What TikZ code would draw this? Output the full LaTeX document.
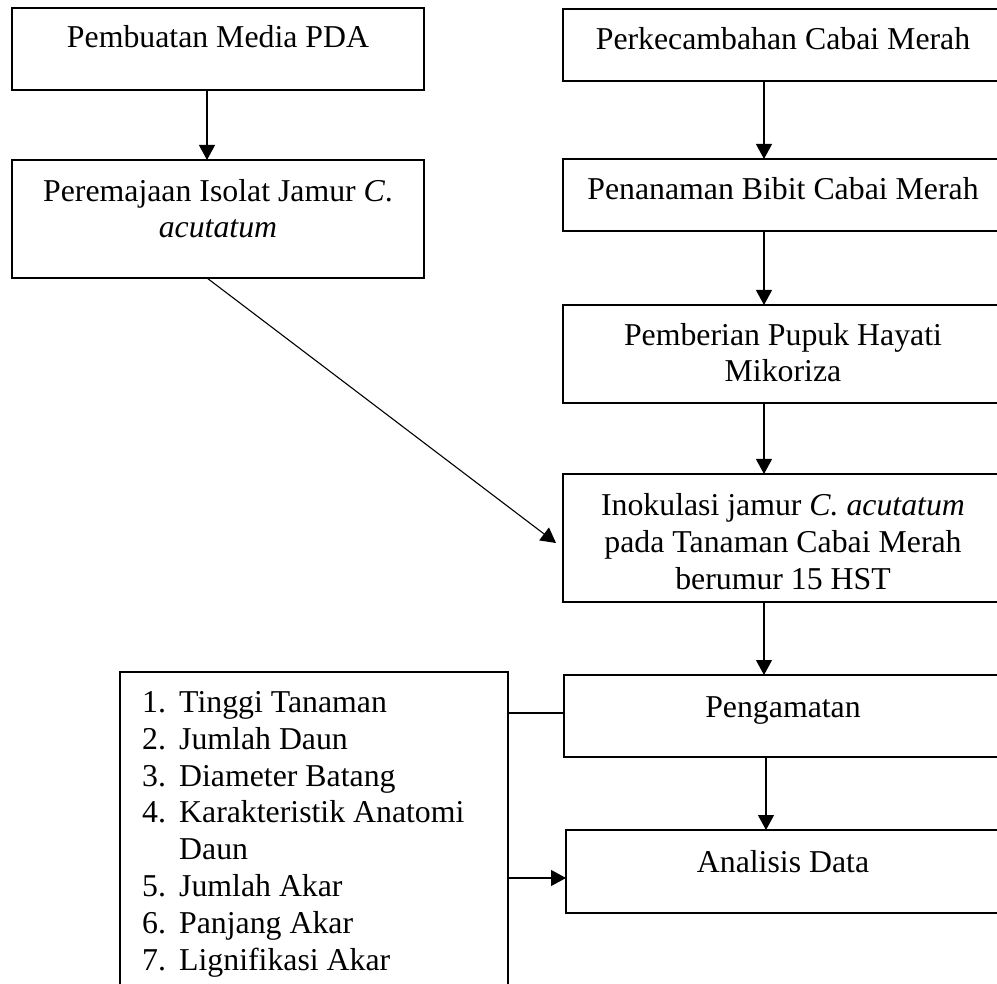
\documentclass[tikz,border=0pt]{standalone}
\usepackage{fontspec}
\setmainfont{Liberation Serif}
\usetikzlibrary{arrows.meta}
\begin{document}
\begin{tikzpicture}[x=1pt,y=-1pt,
  box/.style={draw,line width=2.4pt,rectangle,inner sep=0pt,outer sep=0pt,anchor=north west},
  txt/.style={anchor=base,inner sep=0pt,align=center,font=\fontsize{31.8}{36.8}\selectfont},
  conn/.style={line width=1.1pt},
  arr/.style={line width=1.1pt,-{Triangle[length=15pt,width=16pt]}}]
\useasboundingbox (0,0) rectangle (997,984);
\clip (0,0) rectangle (997,984);
% boxes
\node[box,minimum width=412pt,minimum height=82pt] (A) at (12,8) {};
\node[box,minimum width=412pt,minimum height=118pt] (C) at (12,160) {};
\node[box,minimum width=440pt,minimum height=72pt] (B) at (563,9) {};
\node[box,minimum width=440pt,minimum height=72pt] (D) at (563,159) {};
\node[box,minimum width=440pt,minimum height=98pt] (E) at (563,305) {};
\node[box,minimum width=440pt,minimum height=128pt] (F) at (563,474) {};
\node[box,minimum width=440pt,minimum height=82pt] (G) at (564,675) {};
\node[box,minimum width=440pt,minimum height=83pt] (H) at (566,830) {};
\node[box,minimum width=388pt,minimum height=340pt] (L) at (120,672) {};
% column positions of the vertical connectors
\coordinate (xl) at (207,0);
\coordinate (xr) at (764,0);
\coordinate (xg) at (766,0);
% texts (anchor = baseline of last line)
\node[txt] (tA) at (218,48) {Pembuatan Media PDA};
\node[txt] (tC) at (218,238) {Peremajaan Isolat Jamur \textit{C}.\\\textit{acutatum}};
\node[txt] (tB) at (783,50) {Perkecambahan Cabai Merah};
\node[txt] (tD) at (783,200) {Penanaman Bibit Cabai Merah};
\node[txt] (tE) at (783,382) {Pemberian Pupuk Hayati\\Mikoriza};
\node[txt] (tF) at (783,589) {Inokulasi jamur \textit{C. acutatum}\\pada Tanaman Cabai Merah\\berumur 15 HST};
\node[txt] (tG) at (783,717) {Pengamatan};
\node[txt] (tH) at (783,872) {Analisis Data};
\node[txt,anchor=base west,align=left] (tL) at (142,970) {%
\makebox[37pt][l]{1.}Tinggi Tanaman\\
\makebox[37pt][l]{2.}Jumlah Daun\\
\makebox[37pt][l]{3.}Diameter Batang\\
\makebox[37pt][l]{4.}Karakteristik Anatomi\\
\makebox[37pt][l]{}Daun\\
\makebox[37pt][l]{5.}Jumlah Akar\\
\makebox[37pt][l]{6.}Panjang Akar\\
\makebox[37pt][l]{7.}Lignifikasi Akar};
% connectors
\draw[arr] (A.south -| xl) -- (C.north -| xl);
\draw[arr] (B.south -| xr) -- (D.north -| xr);
\draw[arr] (D.south -| xr) -- (E.north -| xr);
\draw[arr] (E.south -| xr) -- (F.north -| xr);
\draw[arr] (F.south -| xr) -- (G.north -| xr);
\draw[arr] (G.south -| xg) -- (H.north -| xg);
\coordinate (ftip) at ([xshift=-7pt,yshift=-69pt]F.north west);
\draw[arr] (C.south -| xl) -- (ftip);
\draw[conn] ([yshift=-41pt]L.north east) -- ([yshift=-41pt]L.north east -| G.west);
\draw[arr] ([yshift=-206pt]L.north east) -- ([yshift=-206pt]L.north east -| H.west);
\end{tikzpicture}
\end{document}
